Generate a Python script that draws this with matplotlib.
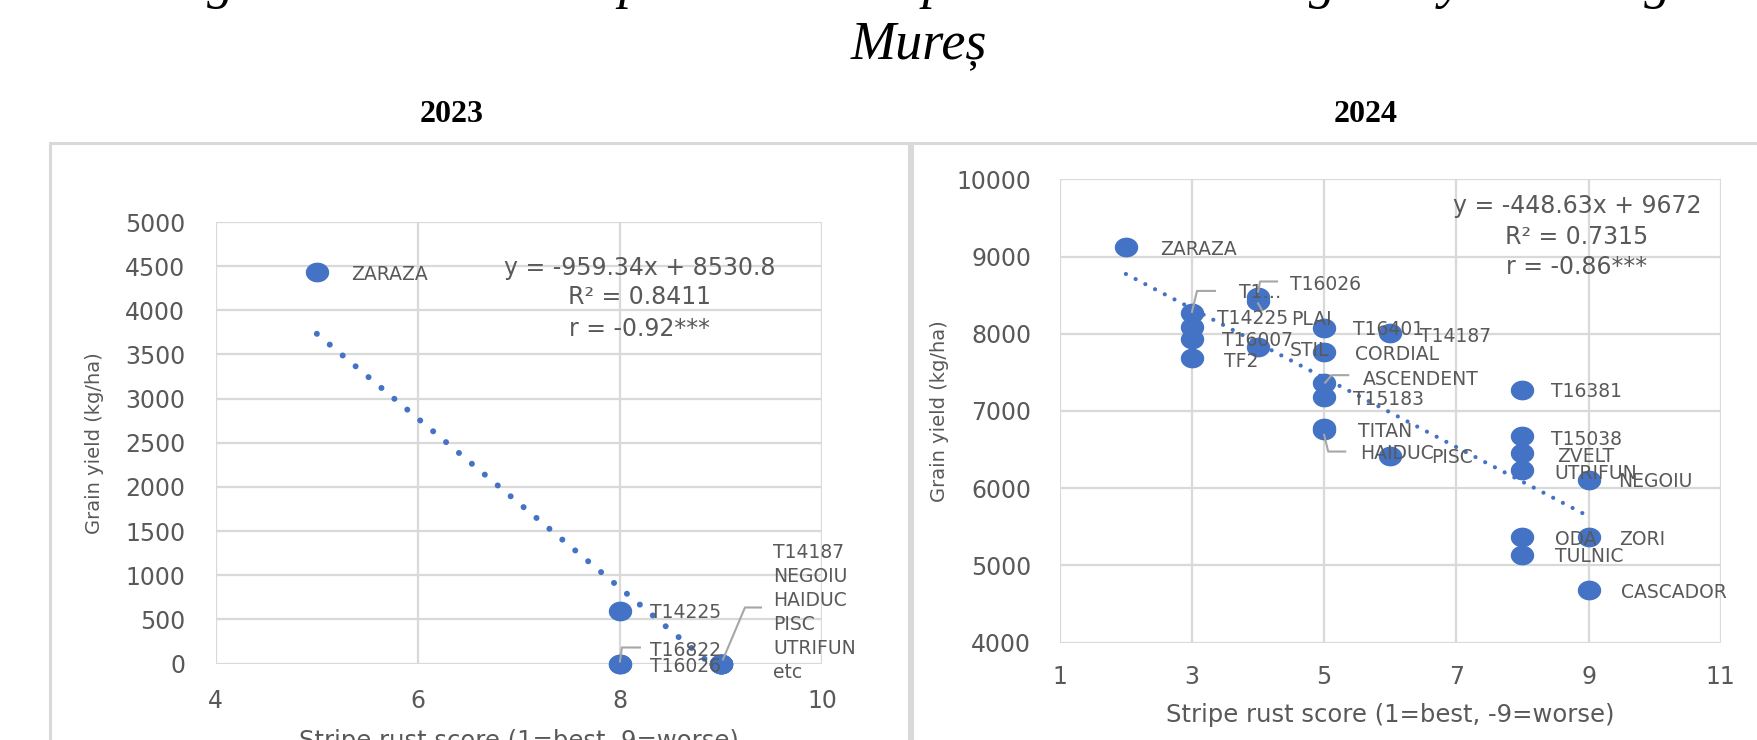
import numpy as np
import matplotlib
matplotlib.use("Agg")
import matplotlib.pyplot as plt
from matplotlib.path import Path
from matplotlib.lines import Line2D
from matplotlib.patches import Rectangle
from matplotlib.transforms import IdentityTransform

# ---------------- data ----------------
# 2023 panel
names_2023 = ["ZARAZA", "T14225", "T16026", "T16822", "T14187", "NEGOIU", "HAIDUC", "PISC", "UTRIFUN"]
scores_2023 = [5, 8, 8, 8, 9, 9, 9, 9, 9]
yield_2023 = [4430, 600, 0, 0, 0, 0, 0, 0, 0]
group_2023 = ["T14187", "NEGOIU", "HAIDUC", "PISC", "UTRIFUN", "etc"]
trend_2023 = (-959.34, 8530.8)
eq_2023 = ["y = -959.34x + 8530.8", "R² = 0.8411", "r = -0.92***"]

# 2024 panel
names_2024 = ["ZARAZA", "T1…", "T14225", "T16007", "TF2", "T16026", "PLAI", "STIL",
              "T16401", "CORDIAL", "ASCENDENT", "T15183", "TITAN", "HAIDUC", "T14187", "PISC",
              "T16381", "T15038", "ZVELT", "UTRIFUN", "ODA", "TULNIC", "NEGOIU", "ZORI", "CASCADOR"]
scores_2024 = [2, 3, 3, 3, 3, 4, 4, 4, 5, 5, 5, 5, 5, 5, 6, 6, 8, 8, 8, 8, 8, 8, 9, 9, 9]
yield_2024 = [9130, 8270, 8090, 7935, 7680, 8470, 8420, 7825, 8075, 7770, 7360, 7180, 6780, 6750,
              8010, 6420, 7275, 6680, 6455, 6230, 5370, 5140, 6110, 5370, 4685]
trend_2024 = (-448.63, 9672)
eq_2024 = ["y = -448.63x + 9672", "R² = 0.7315", "r = -0.86***"]

xticks_2023 = [4, 6, 8, 10]
yticks_2023 = list(range(0, 5001, 500))
xticks_2024 = [1, 3, 5, 7, 9, 11]
yticks_2024 = list(range(4000, 10001, 1000))

title_line1 = "Figure 3. Relationship between stripe rust score and grain yield in Tg."
title_line2 = "Mureș"
xlabel_2023 = "Stripe rust score (1=best, 9=worse)"
xlabel_2024 = "Stripe rust score (1=best, -9=worse)"
ylabel = "Grain yield (kg/ha)"

# ---------------- layout / style ----------------
W, H = 1758, 740
BLUE = "#4472C4"
GRID = "#D9D9D9"
TXT = "#595959"
LEAD = "#A6A6A6"

# label offsets in pixels (dx right, dy down) from the point
lab_2023 = {"ZARAZA": (34, 0.6), "T14225": (30, 0), "T16026": (30, 0.5),
            "T16822": (30, -15.2), "T14187": (52, -53)}
lead_2023 = {"T16822": [(0, -2), (2, -16), (20, -16)],
             "T14187": [(2, -4), (24, -56), (40, -56)]}
lab_2024 = {"ZARAZA": (34, 1.4), "T1…": (47, -22.4), "T14225": (25, -10), "T16007": (30, 0),
            "TF2": (32, 1.5), "T16026": (31.6, -15), "PLAI": (33, 16.6), "STIL": (32, 1.3),
            "T16401": (29, 0), "CORDIAL": (31, 1), "ASCENDENT": (39, -6), "T15183": (29, 0),
            "TITAN": (34, 2), "HAIDUC": (36, 21.6), "T14187": (30, 1.4), "PISC": (41, 0),
            "T16381": (28.5, 0), "T15038": (28.5, 1.7), "ZVELT": (34.5, 1), "UTRIFUN": (31.5, 1.6),
            "ODA": (33, 1), "TULNIC": (33, 0), "NEGOIU": (29.4, 0), "ZORI": (31, 1),
            "CASCADOR": (32.4, 1)}
lead_2024 = {"T1…": [(0, -1), (5, -22), (23, -22)],
             "T16026": [(0, -6), (2, -16), (19, -16)],
             "PLAI": [(0, 2), (4, 9)],
             "ASCENDENT": [(1, -0.5), (7.5, -8), (24, -8)],
             "HAIDUC": [(0, 4.6), (4, 21.3), (21, 21.3)]}


def fx(px):
    return px / W


def fy(py):
    return 1 - py / H


fig = plt.figure(figsize=(W / 100, H / 100), dpi=100)
fig.patch.set_facecolor("white")

# panel frames
for (x0, x1, y0, y1) in [(50, 909, 143, 780), (912, 1800, 143, 780)]:
    fig.add_artist(Rectangle((fx(x0), fy(y1)), fx(x1) - fx(x0), fy(y0) - fy(y1),
                             transform=fig.transFigure, fill=False, ec=GRID, lw=2.2))

# titles
serif = ["Liberation Serif", "DejaVu Serif"]
fig.text(fx(922), fy(-3), title_line1, fontsize=39, style="italic", family=serif,
         ha="center", va="baseline", color="black")
fig.text(fx(919), fy(58), title_line2, fontsize=39, style="italic", family=serif,
         ha="center", va="baseline", color="black")
fig.text(fx(452), fy(114.5), "2023", fontsize=23, fontweight="bold", family=serif,
         ha="center", va="center")
fig.text(fx(1366), fy(114.5), "2024", fontsize=23, fontweight="bold", family=serif,
         ha="center", va="center")

# ellipse marker (chart is horizontally stretched)
t = np.linspace(0, 2 * np.pi, 73)
ell = Path(np.column_stack([1.2 * np.cos(t), np.sin(t)]), closed=True)


def make_ax(box, xlim, ylim, xticks, yticks, ypad, xpad):
    x0, x1, ytop, ybot = box
    ax = fig.add_axes([fx(x0), fy(ybot), fx(x1) - fx(x0), fy(ytop) - fy(ybot)])
    ax.set_xlim(xlim)
    ax.set_ylim(ylim)
    ax.set_xticks(xticks)
    ax.set_yticks(yticks)
    for s in ax.spines.values():
        s.set_visible(False)
    ax.grid(True, color=GRID, lw=1.6)
    ax.set_axisbelow(True)
    ax.tick_params(axis="both", length=0, labelsize=17, labelcolor=TXT)
    ax.tick_params(axis="y", pad=ypad)
    ax.tick_params(axis="x", pad=xpad)
    ax.set_facecolor("none")
    return ax


def draw_panel(ax, names, xs, ys, trend, lw_px, gap, labs, leads, group_text=None):
    xs = np.asarray(xs, float)
    ys = np.asarray(ys, float)
    slope, icpt = trend
    tx = np.array([xs.min(), xs.max()])
    ax.plot(xs, ys, linestyle="none", marker=ell, markersize=22 * 0.72,
            color=BLUE, mec=BLUE, zorder=3, clip_on=False)
    ax.plot(tx, slope * tx + icpt, color=BLUE, lw=lw_px * 0.72,
            linestyle=(0, (0.01, gap)), dash_capstyle="round", zorder=4)
    for n, x, y in zip(names, xs, ys):
        if n not in labs:
            continue
        dx, dy = labs[n]
        txt = n
        kw = {}
        if group_text is not None and n == group_text[0]:
            txt = "\n".join(group_text)
            kw = dict(linespacing=1.33)
        ax.annotate(txt, (x, y), xytext=(dx, -(dy + 2)), textcoords="offset pixels",
                    ha="left", va="center", fontsize=13.5, color=TXT,
                    annotation_clip=False, zorder=5, **kw)
        if n in leads:
            bx, by = ax.transData.transform((x, y))
            pts = np.array(leads[n], float)
            fig.add_artist(Line2D(bx + pts[:, 0], by - pts[:, 1], color=LEAD, lw=1.5,
                                  transform=IdentityTransform(), zorder=6))


# left panel (2023)
axL = make_ax((215.8, 822, 222, 663.5), (4, 10), (0, 5000), xticks_2023, yticks_2023, 22, 18)
draw_panel(axL, names_2023, scores_2023, yield_2023, trend_2023, 6.0, 2.8,
           lab_2023, lead_2023, group_text=group_2023)
axL.set_xlabel(xlabel_2023, fontsize=17.5, color=TXT, va="center")
axL.xaxis.set_label_coords(0.5, (663.5 - 741) / 441.5)
axL.set_ylabel(ylabel, fontsize=14, color=TXT, va="center")
axL.yaxis.set_label_coords((95 - 215.8) / 606.2, 0.5)

# right panel (2024)
axR = make_ax((1059.8, 1720.8, 179.4, 642.5), (1, 11), (4000, 10000), xticks_2024, yticks_2024, 20.7, 16.5)
draw_panel(axR, names_2024, scores_2024, yield_2024, trend_2024, 4.2, 2.6, lab_2024, lead_2024)
axR.set_xlabel(xlabel_2024, fontsize=17.5, color=TXT, va="center")
axR.xaxis.set_label_coords(0.5, (642.5 - 715) / 463.1)
axR.set_ylabel(ylabel, fontsize=14, color=TXT, va="center")
axR.yaxis.set_label_coords((940 - 1059.8) / 661.0, 0.5)

# regression equations
for i, line in enumerate(eq_2023):
    fig.text(fx(640), fy([265, 295, 326][i] + 2.5), line, fontsize=17, color=TXT,
             ha="center", va="center")
for i, line in enumerate(eq_2024):
    fig.text(fx(1577), fy([203, 234, 264][i] + 2.5), line, fontsize=17, color=TXT,
             ha="center", va="center")

fig.savefig("out.png", dpi=100, facecolor="white")
